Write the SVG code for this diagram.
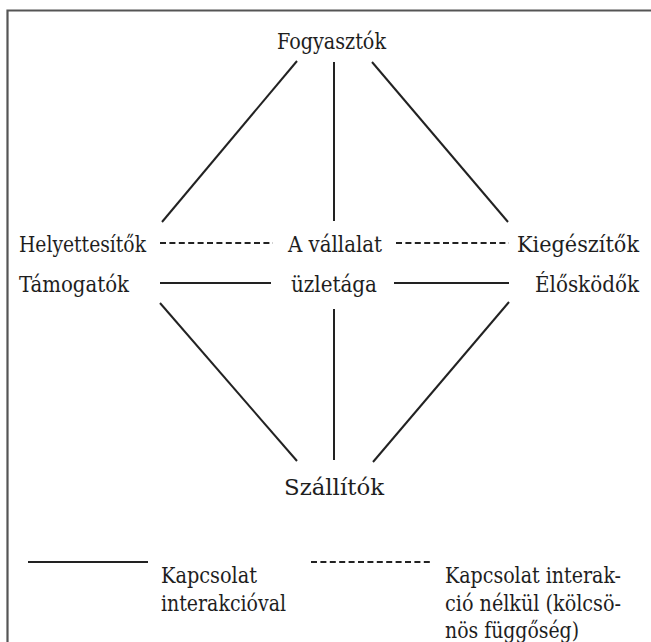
<svg xmlns="http://www.w3.org/2000/svg" width="651" height="642" viewBox="0 0 651 642">
<style>
text{font-family:"DejaVu Serif Condensed","DejaVu Serif","Noto Serif",serif;font-stretch:condensed;font-size:23px;fill:#1e1e1e}
.s{stroke:#222;stroke-width:2;fill:none}
.d{stroke:#222;stroke-width:2;fill:none;stroke-dasharray:6 3.4}
.frame{stroke:#555;stroke-width:2.2;fill:none}
</style>
<rect width="651" height="642" fill="#fff"/>
<path class="frame" d="M7.5 642 V10.5 H651"/>
<g id="connectors">
<line class="s" x1="297" y1="61" x2="162" y2="222"/>
<line class="s" x1="334" y1="62" x2="334" y2="221"/>
<line class="s" x1="372" y1="62" x2="508" y2="222"/>
<line class="d" x1="160" y1="243" x2="273" y2="243"/>
<line class="d" x1="396" y1="243" x2="509" y2="243"/>
<line class="s" x1="160" y1="283" x2="271" y2="283"/>
<line class="s" x1="394" y1="283" x2="509" y2="283"/>
<line class="s" x1="160" y1="303" x2="297" y2="461"/>
<line class="s" x1="334" y1="309" x2="334" y2="460"/>
<line class="s" x1="509" y1="302" x2="373" y2="462"/>
</g>
<g id="fogyasztok"><text x="277" y="49" textLength="109" lengthAdjust="spacingAndGlyphs">Fogyasztók</text></g>
<g id="helyettesitok"><text x="19" y="252" textLength="127" lengthAdjust="spacingAndGlyphs">Helyettesítők</text></g>
<g id="vallalat"><text x="288" y="252" textLength="94" lengthAdjust="spacingAndGlyphs">A vállalat</text><text x="291" y="292" textLength="86" lengthAdjust="spacingAndGlyphs">üzletága</text></g>
<g id="kiegeszitok"><text x="517" y="252" textLength="122" lengthAdjust="spacingAndGlyphs">Kiegészítők</text></g>
<g id="tamogatok"><text x="19" y="292" textLength="110" lengthAdjust="spacingAndGlyphs">Támogatók</text></g>
<g id="elosködok"><text x="535" y="292" textLength="104" lengthAdjust="spacingAndGlyphs">Élősködők</text></g>
<g id="szallitok"><text x="284" y="495" textLength="100" lengthAdjust="spacingAndGlyphs">Szállítók</text></g>
<g id="legend">
<line class="s" x1="28" y1="562" x2="148" y2="562"/>
<text x="161" y="583" textLength="96" lengthAdjust="spacingAndGlyphs">Kapcsolat</text>
<text x="161" y="611" textLength="125" lengthAdjust="spacingAndGlyphs">interakcióval</text>
<line class="d" x1="311" y1="562" x2="430" y2="562"/>
<text x="445" y="583" textLength="176" lengthAdjust="spacingAndGlyphs">Kapcsolat interak-</text>
<text x="445" y="611" textLength="176" lengthAdjust="spacingAndGlyphs">ció nélkül (kölcsö-</text>
<text x="445" y="638" textLength="134" lengthAdjust="spacingAndGlyphs">nös függőség)</text>
</g>
</svg>
